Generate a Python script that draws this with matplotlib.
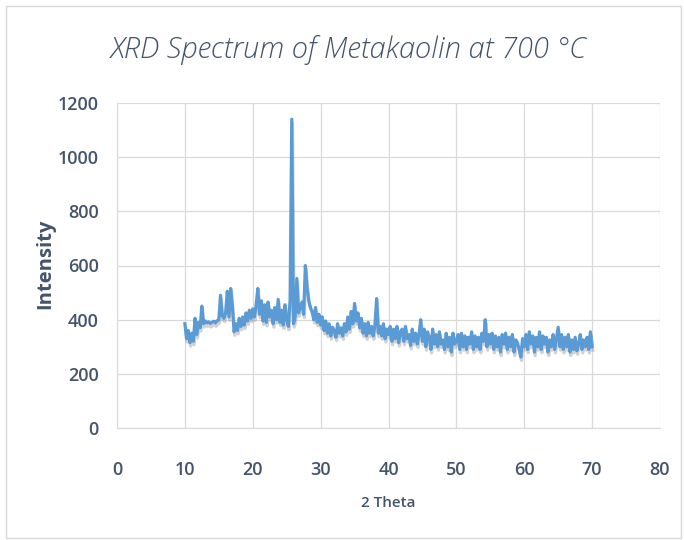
import numpy as np
import matplotlib.pyplot as plt
import matplotlib.patheffects as pe
from matplotlib.patches import Rectangle

# 2-theta scan, 0.25 deg step from 10 to 70
two_theta = np.linspace(10, 70, 241)

# intensity, one row per degree (x.00, x.25, x.50, x.75)
intensity_10_20 = [
    385, 330, 360, 315,
    350, 320, 405, 345,
    390, 370, 450, 385,
    395, 388, 392, 386,
    390, 394, 388, 396,
    400, 490, 415, 405,
    425, 505, 410, 515,
    450, 355, 385, 360,
    405, 375, 410, 380,
    425, 395, 435, 405,
]
intensity_20_30 = [
    440, 410, 455, 515,
    420, 470, 395, 455,
    390, 465, 410, 435,
    385, 445, 400, 475,
    390, 435, 380, 455,
    400, 375, 470, 1140,
    385, 410, 552, 425,
    445, 465, 420, 600,
    520, 470, 445, 430,
    400, 445, 390, 420,
]
intensity_30_40 = [
    380, 410, 360, 395,
    350, 385, 340, 372,
    360, 335, 385, 350,
    370, 340, 385, 355,
    410, 365, 430, 385,
    460, 395, 425, 370,
    405, 350, 385, 340,
    390, 350, 375, 340,
    380, 478, 350, 375,
    340, 385, 330, 365,
]
intensity_40_50 = [
    345, 375, 320, 365,
    330, 375, 315, 355,
    365, 320, 375, 330,
    345, 305, 365, 320,
    350, 310, 345, 400,
    320, 365, 300, 355,
    335, 290, 365, 310,
    345, 300, 355, 310,
    325, 290, 350, 300,
    335, 280, 350, 310,
]
intensity_50_60 = [
    320, 345, 290, 350,
    300, 340, 290, 335,
    310, 355, 290, 340,
    300, 335, 290, 350,
    320, 400, 300, 345,
    310, 350, 290, 340,
    300, 335, 280, 345,
    310, 350, 290, 335,
    300, 345, 280, 325,
    315, 290, 262, 330,
]
intensity_60_70 = [
    300, 345, 290, 355,
    310, 340, 280, 335,
    300, 355, 290, 340,
    310, 335, 280, 325,
    300, 345, 290, 330,
    372, 300, 345, 290,
    335, 300, 345, 280,
    325, 290, 335, 285,
    310, 345, 290, 325,
    300, 335, 290, 355,
    300,
]

intensity = (intensity_10_20 + intensity_20_30 + intensity_30_40
             + intensity_40_50 + intensity_50_60 + intensity_60_70)

x_ticks = [0, 10, 20, 30, 40, 50, 60, 70, 80]
y_ticks = [0, 200, 400, 600, 800, 1000, 1200]

text_col = '#44546A'
grid_col = '#D9D9D9'

fig = plt.figure(figsize=(6.84, 5.4), dpi=100)
ax = fig.add_axes([117 / 684, 1 - 428 / 540, 543 / 684, 325 / 540])

ax.plot(two_theta, intensity, color='#5B9BD5', lw=2.3,
        path_effects=[pe.SimpleLineShadow(offset=(0.5, -2.5), shadow_color='#7f7f7f', alpha=0.35),
                      pe.Normal()])

ax.set_xlim(0, 80)
ax.set_ylim(0, 1200)
ax.set_xticks(x_ticks)
ax.set_yticks(y_ticks)
ax.grid(True, color=grid_col, lw=0.9)
ax.set_axisbelow(True)
for side in ['top', 'right']:
    ax.spines[side].set_visible(False)
for side in ['left', 'bottom']:
    ax.spines[side].set_color(grid_col)
ax.tick_params(length=0, labelcolor=text_col, labelsize=13)
ax.tick_params(axis='x', pad=24)
ax.tick_params(axis='y', pad=13)
for lbl in ax.get_xticklabels() + ax.get_yticklabels():
    lbl.set_fontfamily('Open Sans')
    lbl.set_fontweight('semibold')

fig.text(349 / 684, 1 - 50 / 540, 'XRD Spectrum of Metakaolin at 700 °C',
         ha='center', va='center', fontsize=21, style='italic', fontweight='light',
         family='Open Sans', color=text_col)
fig.text(388 / 684, 1 - 503 / 540, '2 Theta', ha='center', va='center',
         fontsize=11, fontweight='semibold', family='Open Sans', color=text_col)
fig.text(45 / 684, 1 - 264 / 540, 'Intensity', ha='center', va='center', rotation=90,
         fontsize=14.5, fontweight='bold', family='Open Sans', color=text_col)

# chart frame
fig.patches.append(Rectangle((6 / 684, 2 / 540), 675 / 684, 532 / 540,
                             transform=fig.transFigure, fill=False,
                             edgecolor=grid_col, lw=1.0))

fig.savefig('out.png', dpi=100)
